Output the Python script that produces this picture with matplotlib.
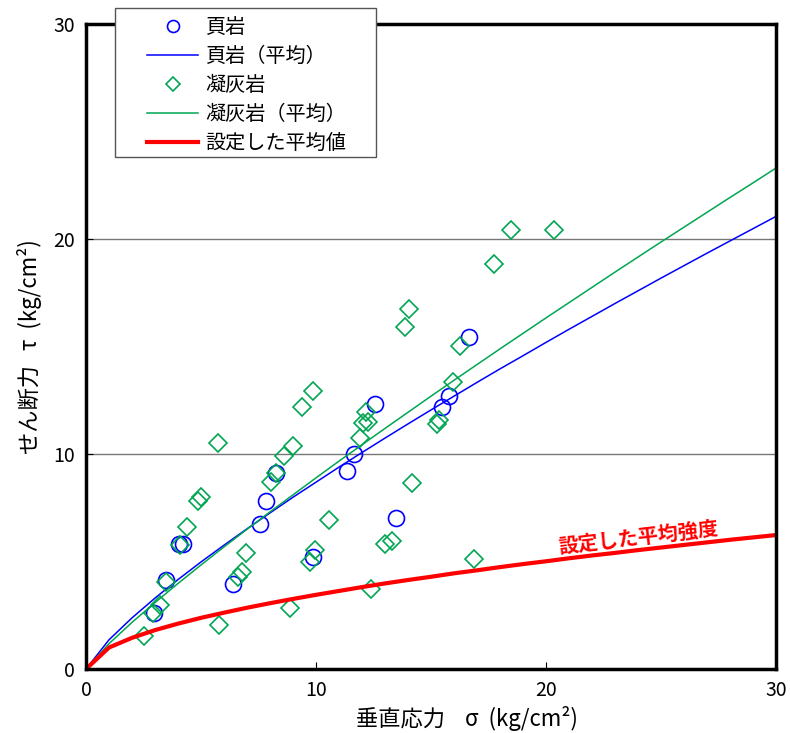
import matplotlib
matplotlib.use("Agg")
import matplotlib.pyplot as plt
from matplotlib.patches import Rectangle
import numpy as np

plt.rcParams['font.family'] = ['Noto Sans CJK JP', 'DejaVu Sans']

# 頁岩 (shale) test points
shale_x = [2.97, 3.48, 4.06, 4.20, 6.38, 7.57, 7.82, 8.27, 9.86, 11.36, 11.65,
           12.55, 13.46, 15.49, 15.77, 16.67]
shale_y = [2.62, 4.13, 5.83, 5.83, 3.95, 6.74, 7.80, 9.12, 5.22, 9.22, 10.0,
           12.32, 7.01, 12.19, 12.71, 15.43]

# 凝灰岩 (tuff) test points
tuff_x = [2.50, 2.93, 3.20, 3.48, 4.09, 4.37, 4.85, 5.00, 5.75, 5.80, 6.62, 6.77,
          6.96, 8.04, 8.25, 8.60, 9.00, 8.87, 9.38, 9.74, 9.96, 9.86, 10.56,
          11.93, 12.06, 12.28, 12.17, 12.38, 13.00, 13.29, 13.87, 14.06, 14.16,
          15.25, 15.35, 15.97, 16.26, 16.87, 17.75, 18.46, 20.36]
tuff_y = [1.55, 2.60, 2.98, 4.06, 5.77, 6.62, 7.80, 8.00, 10.50, 2.05, 4.29, 4.53,
          5.41, 8.71, 9.10, 9.90, 10.38, 2.82, 12.20, 4.99, 5.53, 12.93, 6.93,
          10.76, 11.43, 11.50, 11.93, 3.71, 5.81, 5.97, 15.92, 16.73, 8.64,
          11.38, 11.58, 13.36, 15.02, 5.12, 18.82, 20.42, 20.42]

# mean curves, read at each integer normal stress
sigma = list(range(0, 31))
shale_mean = [0, 1.36, 2.38, 3.30, 4.16, 4.98, 5.76, 6.52, 7.26, 7.99, 8.69,
              9.39, 10.07, 10.74, 11.40, 12.05, 12.69, 13.33, 13.96, 14.57, 15.19,
              15.80, 16.40, 17.00, 17.59, 18.18, 18.76, 19.34, 19.91, 20.48, 21.05]
tuff_mean = [0, 1.18, 2.17, 3.09, 3.98, 4.84, 5.68, 6.50, 7.31, 8.10, 8.89,
             9.67, 10.43, 11.19, 11.94, 12.69, 13.43, 14.16, 14.89, 15.61, 16.33,
             17.04, 17.75, 18.46, 19.16, 19.86, 20.55, 21.24, 21.93, 22.61, 23.30]
design_mean = [0, 1.00, 1.45, 1.81, 2.11, 2.38, 2.62, 2.85, 3.06, 3.26, 3.45,
               3.63, 3.81, 3.98, 4.14, 4.29, 4.45, 4.59, 4.74, 4.88, 5.01,
               5.15, 5.28, 5.40, 5.53, 5.65, 5.77, 5.89, 6.01, 6.12, 6.23]

fig = plt.figure(figsize=(7.9, 7.33), dpi=100)
ax = fig.add_axes([0.1089, 0.0873, 0.8734, 0.88])

ax.axhline(10, color='#777777', lw=1.0, zorder=0)
ax.axhline(20, color='#777777', lw=1.0, zorder=0)

ax.plot(shale_x, shale_y, 'o', ms=11.5, mfc='none', mec='#0000ff', mew=1.2, label='頁岩')
ax.plot(sigma, shale_mean, color='#0000ff', lw=1.1, label='頁岩（平均）')
ax.plot(tuff_x, tuff_y, 'D', ms=9, mfc='none', mec='#00a651', mew=1.2, label='凝灰岩')
ax.plot(sigma, tuff_mean, color='#00a651', lw=1.1, label='凝灰岩（平均）')
ax.plot(sigma, design_mean, color='#ff0000', lw=3.0, label='設定した平均値')

ax.text(24.0, 6.15, '設定した平均強度', color='#ff0000', fontsize=14.5,
        fontweight='bold', rotation=6.5, ha='center', va='center')

ax.set_xlim(0, 30)
ax.set_ylim(0, 30)
ax.set_xticks([0, 10, 20, 30])
ax.set_yticks([0, 10, 20, 30])
ax.tick_params(direction='in', length=5, labelsize=14, pad=8)
for s in ax.spines.values():
    s.set_linewidth(2.5)

ax.set_xlabel('垂直応力    σ  (kg/cm²)', fontsize=16)
ax.xaxis.set_label_coords(0.552, -0.057)
ax.set_ylabel('せん断力   τ  (kg/cm²)', fontsize=16, labelpad=8)

# legend box (drawn separately so the padding matches the original)
box = Rectangle((115 / 790, 1 - 157 / 733), 261 / 790, 149 / 733,
                transform=fig.transFigure, facecolor='white',
                edgecolor='#555555', lw=1.0, zorder=4)
fig.patches.append(box)

leg = fig.legend(*ax.get_legend_handles_labels(), loc='upper left',
                 bbox_to_anchor=(147 / 790, 1 - 17 / 733), fontsize=14.5,
                 frameon=False, handlelength=2.55, labelspacing=0.4,
                 borderpad=0.0, borderaxespad=0.0, handletextpad=0.35,
                 markerscale=0.75)
leg.set_zorder(5)

plt.savefig('out.png', dpi=100)
